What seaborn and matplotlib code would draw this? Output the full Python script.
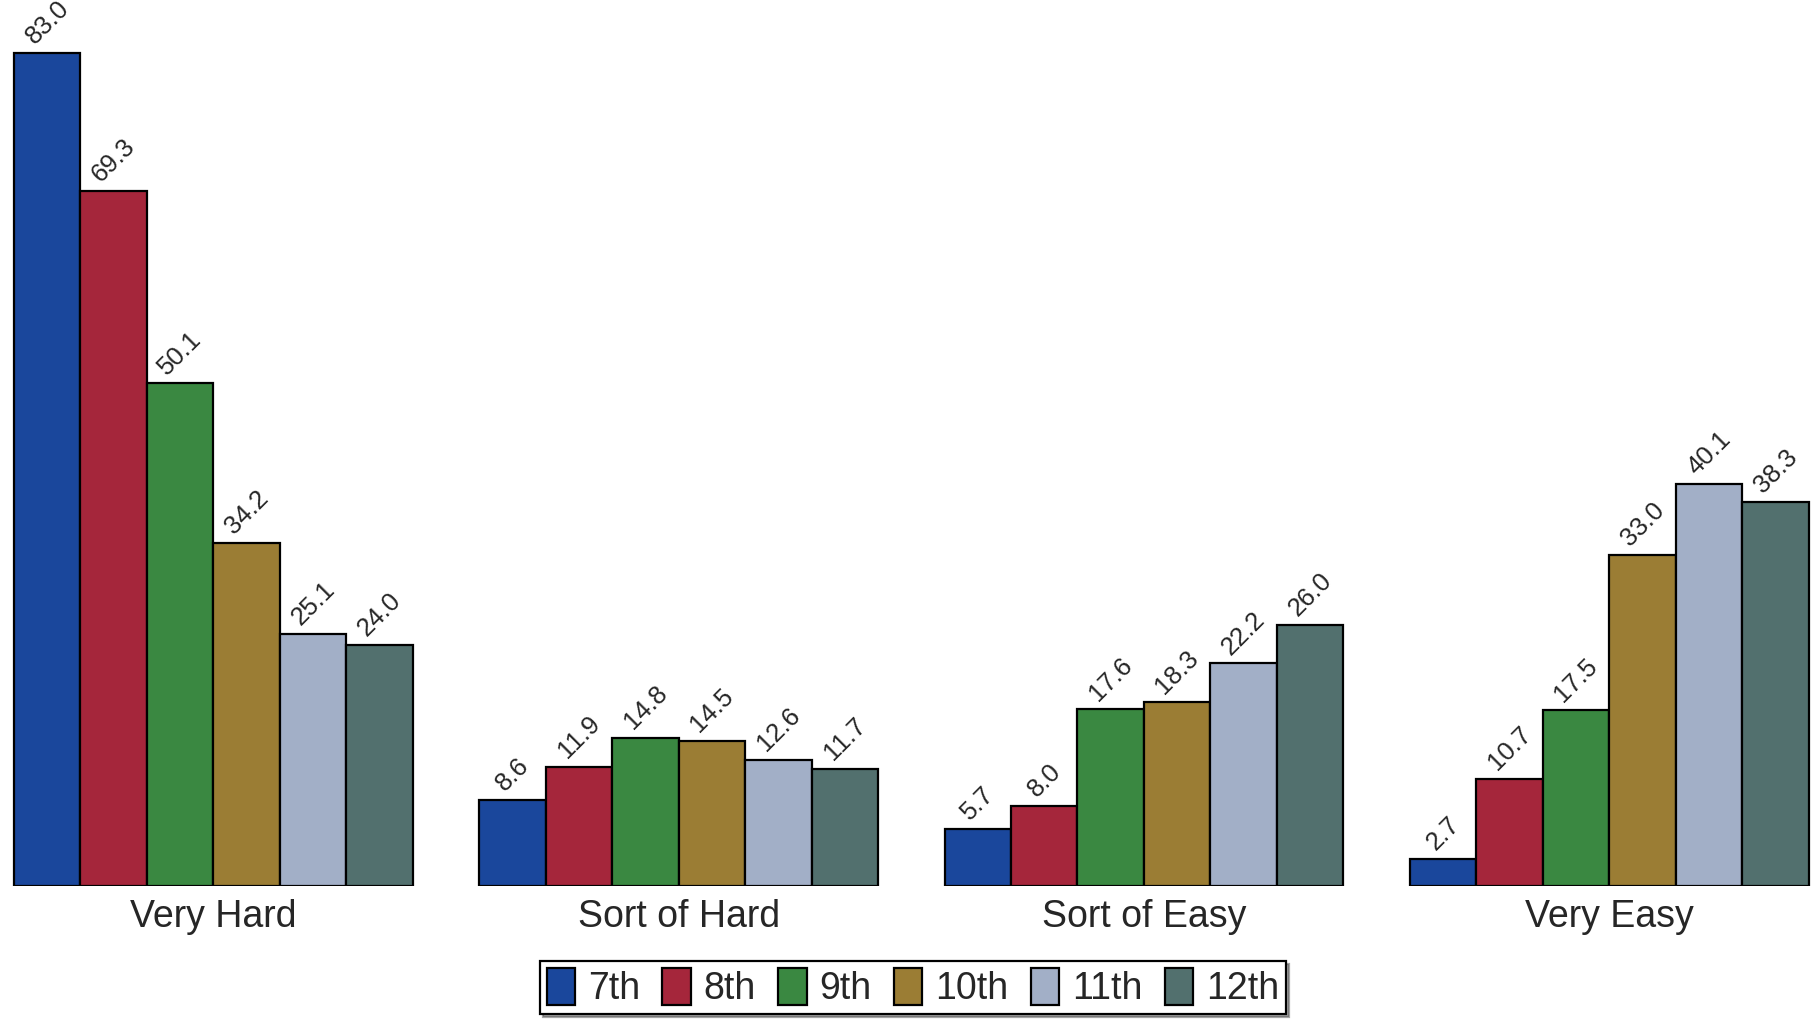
import matplotlib
matplotlib.use("Agg")
import matplotlib.pyplot as plt
import seaborn as sns
import pandas as pd
from matplotlib.patches import Patch

categories = ["Very Hard", "Sort of Hard", "Sort of Easy", "Very Easy"]
grades = ["7th", "8th", "9th", "10th", "11th", "12th"]
very_hard = [83.0, 69.3, 50.1, 34.2, 25.1, 24.0]
sort_of_hard = [8.6, 11.9, 14.8, 14.5, 12.6, 11.7]
sort_of_easy = [5.7, 8.0, 17.6, 18.3, 22.2, 26.0]
very_easy = [2.7, 10.7, 17.5, 33.0, 40.1, 38.3]
colors = ["#1a479c", "#a5263b", "#3a8841", "#9b7d34", "#a2afc7", "#52706e"]

series = [very_hard, sort_of_hard, sort_of_easy, very_easy]
rows = []
for cat, vals in zip(categories, series):
    for g, v in zip(grades, vals):
        rows.append({"category": cat, "grade": g, "value": v})
df = pd.DataFrame(rows)

sns.set_theme(style="white")
plt.rcParams["font.family"] = ["Liberation Sans", "DejaVu Sans"]

fig = plt.figure(figsize=(18.2, 10.21), dpi=100)
ax = fig.add_axes([0.0064, 0.1322, 0.9886, 0.8678])

sns.barplot(data=df, x="category", y="value", hue="grade", order=categories,
            hue_order=grades, palette=colors, width=6/7, errorbar=None,
            edgecolor="black", linewidth=1.6, saturation=1, ax=ax, legend=False)

for cont in ax.containers:
    ax.bar_label(cont, fmt="%.1f", rotation=45, padding=3, fontsize=18.5)

ax.set_ylim(0, 88.3)
ax.set_xlim(-0.5 + 1/14 - 0.005, 3.5 - 1/14 + 0.005)
for s in ax.spines.values():
    s.set_visible(False)
ax.set_yticks([])
ax.set_xlabel("")
ax.set_ylabel("")
ax.tick_params(axis="x", length=0, pad=9, labelsize=27)

handles = [Patch(facecolor=c, edgecolor="black", linewidth=1.6) for c in colors]
fig.legend(handles, grades, loc="lower center", bbox_to_anchor=(0.5017, -0.004),
           ncol=6, fontsize=27, frameon=True, fancybox=False, shadow=True,
           edgecolor="black", handlelength=0.75, handleheight=1.12,
           handletextpad=0.35, columnspacing=0.6, borderpad=0.18,
           borderaxespad=0.3)
leg = fig.legends[0]
leg.get_frame().set_linewidth(1.6)

fig.savefig("out.png", dpi=100)
